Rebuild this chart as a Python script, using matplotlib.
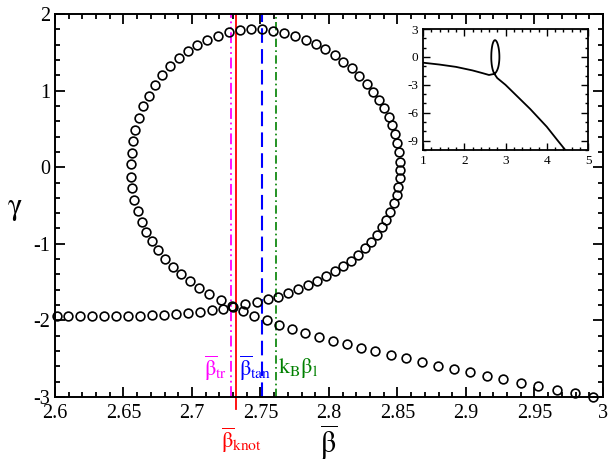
import numpy as np
import matplotlib
matplotlib.use('Agg')
import matplotlib.pyplot as plt
from matplotlib.ticker import MultipleLocator

plt.rcParams['font.family'] = ['Liberation Serif', 'DejaVu Serif']
plt.rcParams['mathtext.fontset'] = 'stix'
plt.rcParams['axes.unicode_minus'] = False

# rama inferior izquierda (hasta el cruce)
beta_izq = [2.6012, 2.6097, 2.6182, 2.6272, 2.6360, 2.6445, 2.6535, 2.6623,
            2.6710, 2.6798, 2.6885, 2.6973, 2.7058, 2.7144, 2.7224, 2.7301]
gamma_izq = [-1.943, -1.943, -1.947, -1.947, -1.947, -1.947, -1.943, -1.939,
             -1.933, -1.926, -1.916, -1.903, -1.886, -1.867, -1.849, -1.825]

# lazo (desde el cruce hacia arriba por la derecha)
beta_lazo = [2.7387, 2.7472, 2.7553, 2.7630, 2.7703, 2.7776, 2.7847, 2.7915,
             2.7978, 2.8044, 2.8104, 2.8161, 2.8214, 2.8263, 2.8307, 2.8348,
             2.8385, 2.8416, 2.8447, 2.8472, 2.8494, 2.8506, 2.8516, 2.8518,
             2.8518, 2.8511, 2.8499, 2.8482, 2.8462, 2.8436, 2.8401, 2.8365,
             2.8323, 2.8275, 2.8221, 2.8168, 2.8104, 2.8042, 2.7973, 2.7905,
             2.7830, 2.7752, 2.7669, 2.7591, 2.7511, 2.7431, 2.7350, 2.7268,
             2.7190, 2.7112, 2.7039, 2.6969, 2.6903, 2.6839, 2.6783, 2.6732,
             2.6686, 2.6645, 2.6613, 2.6586, 2.6569, 2.6560, 2.6553, 2.6553,
             2.6560, 2.6577, 2.6604, 2.6633, 2.6666, 2.6706, 2.6754, 2.6805,
             2.6859, 2.6920, 2.6985, 2.7053, 2.7126, 2.7210, 2.7290]
gamma_lazo = [-1.792, -1.757, -1.723, -1.688, -1.642, -1.594, -1.542, -1.486,
              -1.424, -1.359, -1.290, -1.221, -1.142, -1.059, -0.973, -0.881,
              -0.785, -0.689, -0.581, -0.471, -0.363, -0.255, -0.145, -0.037,
              0.072, 0.202, 0.320, 0.433, 0.547, 0.659, 0.769, 0.877,
              0.986, 1.090, 1.191, 1.291, 1.377, 1.461, 1.539, 1.604,
              1.664, 1.709, 1.752, 1.782, 1.800, 1.800, 1.791, 1.761,
              1.717, 1.664, 1.595, 1.513, 1.422, 1.317, 1.200, 1.073,
              0.933, 0.795, 0.642, 0.490, 0.338, 0.185, 0.042, -0.124,
              -0.275, -0.428, -0.572, -0.711, -0.842, -0.963, -1.081, -1.194,
              -1.299, -1.398, -1.490, -1.577, -1.659, -1.734, -1.808]

# rama inferior derecha (despues del cruce)
beta_der = [2.7370, 2.7455, 2.7545, 2.7637, 2.7732, 2.7827, 2.7925, 2.8027,
            2.8129, 2.8236, 2.8338, 2.8450, 2.8562, 2.8677, 2.8793, 2.8910,
            2.9029, 2.9151, 2.9272, 2.9401, 2.9528, 2.9662, 2.9796, 2.9929]
gamma_der = [-1.877, -1.939, -1.995, -2.056, -2.110, -2.161, -2.213, -2.265,
             -2.308, -2.356, -2.403, -2.452, -2.495, -2.543, -2.591, -2.631,
             -2.678, -2.726, -2.769, -2.817, -2.860, -2.909, -2.952, -2.996]

# curva del recuadro (rango amplio)
beta_rec_izq = [1.0, 1.4, 1.8, 2.2, 2.45, 2.6, 2.73]
gamma_rec_izq = [-0.62, -0.82, -1.07, -1.45, -1.75, -1.94, -1.82]
beta_rec_der = [2.80, 3.0, 3.3, 3.6, 4.0, 4.25, 4.45]
gamma_rec_der = [-2.27, -3.0, -4.3, -5.6, -7.5, -8.9, -10.0]

# lineas verticales
beta_tr = 2.7282
beta_knot = 2.7319
beta_tan = 2.7509
kb_beta_l = 2.7613

fig = plt.figure(figsize=(6.08, 4.62), dpi=100)
ax = fig.add_axes([55/608, 1 - 397/462, 548/608, 383/462])

for s in ax.spines.values():
    s.set_linewidth(1.4)

ax.axvline(beta_tr, color='magenta', lw=1.3, ls=(0, (6, 2, 1, 2, 1, 2)))
ax.plot([beta_knot, beta_knot], [2, -3.16], color='red', lw=1.3, clip_on=False)
ax.axvline(beta_tan, color='blue', lw=1.5, ls=(0, (7, 3)))
ax.axvline(kb_beta_l, color='green', lw=1.2, ls=(0, (5, 2, 1, 2)))

estilo = dict(ls='none', marker='o', ms=6.3, mfc='none', mec='black', mew=1.2, clip_on=False)
ax.plot(beta_izq, gamma_izq, **estilo)
ax.plot(beta_lazo, gamma_lazo, **estilo)
ax.plot(beta_der, gamma_der, **estilo)

ax.set_xlim(2.6, 3.0)
ax.set_ylim(-3, 2)
ax.xaxis.set_minor_locator(MultipleLocator(0.01))
ax.yaxis.set_major_locator(MultipleLocator(1))
ax.yaxis.set_minor_locator(MultipleLocator(0.2))
ax.set_xticks(np.arange(2.6, 3.001, 0.05))
ax.set_xticklabels(['2.6', '2.65', '2.7', '2.75', '2.8', '2.85', '2.9', '2.95', '3'])
ax.tick_params(which='both', direction='in', top=True, right=True, width=1.3, labelsize=14.5)
ax.tick_params(which='major', length=7)
ax.tick_params(which='minor', length=3.5)
ax.tick_params(axis='x', pad=5)

ax.set_xlabel(r'$\overline{\mathrm{\beta}}$', fontsize=22, labelpad=0)
fig.text(15/608, 1 - 208/462, r'$\mathrm{\gamma}$', fontsize=22, ha='center', va='center')

ax.text(2.7085, -2.62, r'$\overline{\mathrm{\beta}}_{\rm tr}$', color='magenta', fontsize=16, va='center')
ax.text(2.7345, -2.62, r'$\overline{\mathrm{\beta}}_{\rm tan}$', color='blue', fontsize=16, va='center')
ax.text(2.7628, -2.62, r'$\rm k_B\mathrm{\beta}_l$', color='green', fontsize=16, va='center')
ax.text(2.7215, -3.56, r'$\overline{\mathrm{\beta}}_{\rm knot}$', color='red', fontsize=16, va='center',
        clip_on=False)

# recuadro
ins = fig.add_axes([423/608, 1 - 150/462, 165/608, 121/462])
for s in ins.spines.values():
    s.set_linewidth(1.3)
ins.plot(beta_rec_izq + beta_lazo + beta_rec_der,
         gamma_rec_izq + gamma_lazo + gamma_rec_der, color='black', lw=1.3)
ins.set_xlim(1, 5)
ins.set_ylim(-10, 3)
ins.xaxis.set_major_locator(MultipleLocator(1))
ins.xaxis.set_minor_locator(MultipleLocator(0.2))
ins.yaxis.set_major_locator(MultipleLocator(3))
ins.yaxis.set_minor_locator(MultipleLocator(1))
ins.tick_params(which='both', direction='in', top=True, right=True, width=1.0, labelsize=9.5)
ins.tick_params(which='major', length=5)
ins.tick_params(which='minor', length=2.5)

fig.savefig('out.png', dpi=100)
